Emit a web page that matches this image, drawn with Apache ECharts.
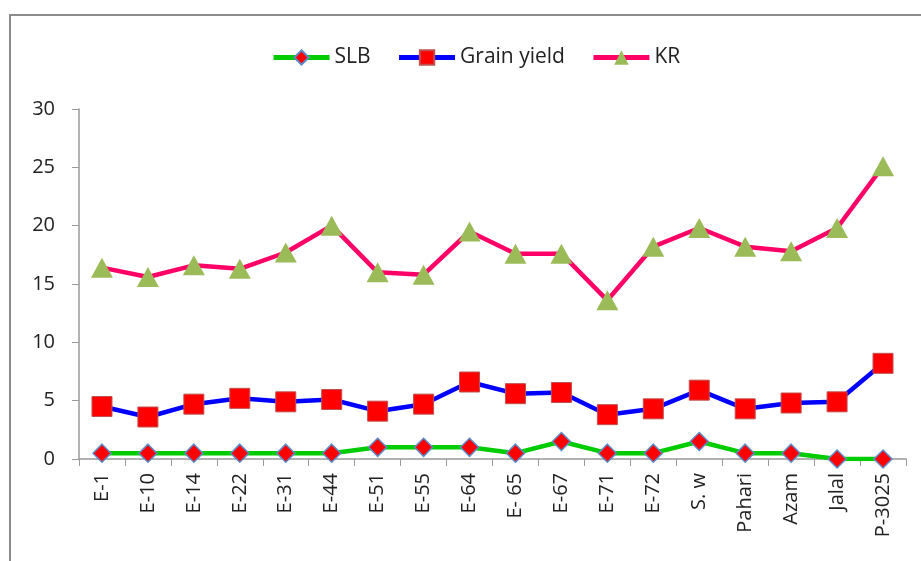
<!DOCTYPE html>
<html>
<head>
<meta charset="utf-8">
<script src="https://cdn.jsdelivr.net/npm/echarts@6/dist/echarts.min.js"></script>
<style>
  html, body { margin: 0; padding: 0; background: #fff; }
  #chart { width: 921px; height: 561px; }
</style>
</head>
<body>
<div id="chart"></div>
<script>
// Genotypes along the x axis
const categories = ['E-1', 'E-10', 'E-14', 'E-22', 'E-31', 'E-44', 'E-51', 'E-55', 'E-64', 'E- 65',
  'E-67', 'E-71', 'E-72', 'S. w', 'Pahari', 'Azam', 'Jalal', 'P-3025'];

// Series values per genotype
const slb = [0.5, 0.5, 0.5, 0.5, 0.5, 0.5, 1, 1, 1, 0.5, 1.5, 0.5, 0.5, 1.5, 0.5, 0.5, 0, 0];
const grainYield = [4.5, 3.6, 4.7, 5.2, 4.9, 5.1, 4.1, 4.7, 6.6, 5.6, 5.7, 3.8, 4.3, 5.9, 4.3, 4.8, 4.9, 8.2];
const kr = [16.4, 15.6, 16.6, 16.3, 17.7, 20.0, 16.0, 15.8, 19.5, 17.6, 17.6, 13.6, 18.2, 19.8, 18.2, 17.8, 19.8, 25.1];

// Value axis ticks
const yTicks = [0, 5, 10, 15, 20, 25, 30];

const FONT = '"Open Sans", "Liberation Sans", sans-serif';
const chart = echarts.init(document.getElementById('chart'));

chart.setOption({
  animation: false,
  backgroundColor: '#ffffff',
  graphic: [{
    type: 'rect',
    shape: { x: 10, y: 15, width: 930, height: 570 },
    style: { fill: 'none', stroke: '#8c8c8c', lineWidth: 2 },
    silent: true
  }],
  legend: {
    top: 42,
    left: 266,
    itemWidth: 56,
    itemHeight: 18,
    itemGap: 26,
    lineStyle: { width: 5 },
    textStyle: { fontFamily: FONT, fontSize: 21, color: '#222' },
    data: ['SLB', 'Grain yield', 'KR']
  },
  grid: { left: 79, right: 15, top: 109, bottom: 102 },
  xAxis: {
    type: 'category',
    data: categories,
    boundaryGap: true,
    axisLine: { lineStyle: { color: '#999', width: 1.5 } },
    axisTick: { show: true, length: 7, interval: 0, lineStyle: { color: '#999' } },
    axisLabel: {
      interval: 0,
      rotate: 90,
      margin: 14,
      fontFamily: FONT,
      fontSize: 20,
      color: '#222'
    }
  },
  yAxis: {
    type: 'value',
    min: yTicks[0],
    max: yTicks[yTicks.length - 1],
    interval: yTicks[1] - yTicks[0],
    axisLine: { show: true, lineStyle: { color: '#999', width: 1.5 } },
    axisTick: { show: true, length: 7, lineStyle: { color: '#999' } },
    splitLine: { show: false },
    axisLabel: { margin: 24, fontFamily: FONT, fontSize: 20, color: '#222' }
  },
  series: [
    {
      name: 'SLB',
      type: 'line',
      data: slb,
      symbol: 'diamond',
      symbolSize: 18,
      lineStyle: { color: '#00cc00', width: 4.5 },
      itemStyle: { color: '#ff0000', borderColor: '#5b8bc9', borderWidth: 1.5 },
      z: 4
    },
    {
      name: 'Grain yield',
      type: 'line',
      data: grainYield,
      symbol: 'rect',
      symbolSize: 20,
      lineStyle: { color: '#0000ff', width: 4.5 },
      itemStyle: { color: '#ff0000', borderColor: '#c0504d', borderWidth: 1 },
      z: 3
    },
    {
      name: 'KR',
      type: 'line',
      data: kr,
      symbol: 'triangle',
      symbolSize: [22, 20],
      lineStyle: { color: '#ff0066', width: 4.5 },
      itemStyle: { color: '#9bbb59', borderColor: '#9bbb59', borderWidth: 0 },
      z: 2
    }
  ]
});
</script>
</body>
</html>
